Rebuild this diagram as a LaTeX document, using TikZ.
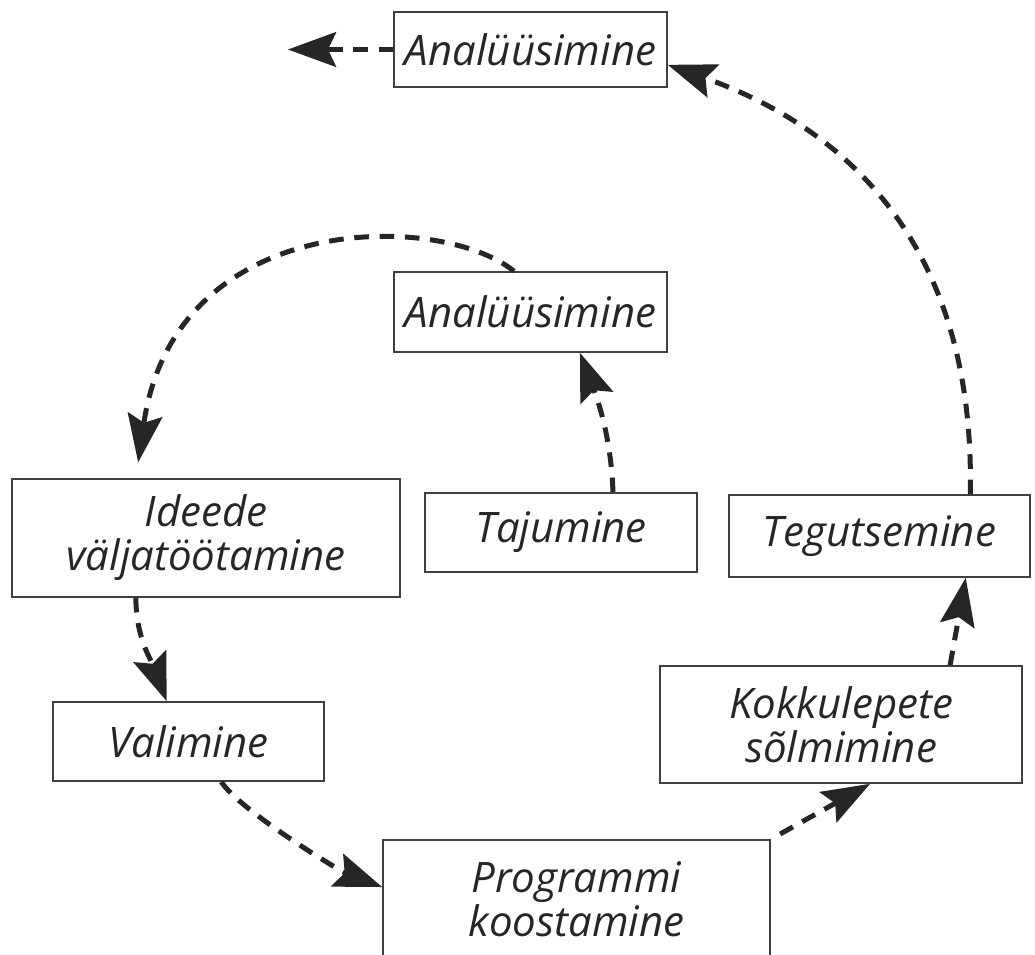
\documentclass[tikz,border=0pt]{standalone}
\usepackage{fontspec}
\setmainfont{Open Sans}
\usetikzlibrary{arrows.meta,calc}

\tikzset{every picture/.style={line width=0.75pt}}
\tikzset{
  stage/.style={draw=black!75, line width=1.2pt, align=center, inner sep=0pt,
    text=black!85, font=\fontsize{31.5}{33}\selectfont\itshape},
  flow/.style={draw=black!85, line width=3.75pt, dash pattern=on 11pt off 8pt,
    -{Stealth[length=36pt,width=26pt,inset=6pt,fill=black!85]}}
}

\begin{document}
\begin{tikzpicture}[x=0.75pt,y=0.75pt,yscale=-1,xscale=1]
\useasboundingbox (0,0) rectangle (1035,954);

\node[stage, minimum width=204.75pt, minimum height=56.25pt] (ana1) at (530.5,49.5) {Analüüsimine};
\node[stage, minimum width=204.75pt, minimum height=60pt] (ana2) at (530.5,312) {Analüüsimine};
\node[stage, minimum width=204pt, minimum height=59.25pt] (taj) at (561,532.5) {Tajumine};
\node[stage, minimum width=291pt, minimum height=88.5pt] (ide) at (206,538) {Ideede\\väljatöötamine};
\node[stage, minimum width=225.75pt, minimum height=61.5pt] (teg) at (879.5,536) {Tegutsemine};
\node[stage, minimum width=203.25pt, minimum height=59.25pt] (val) at (188.5,741.5) {Valimine};
\node[stage, minimum width=271.5pt, minimum height=87.75pt] (kok) at (841,724.5) {Kokkulepete\\sõlmimine};
\node[stage, minimum width=290.25pt, minimum height=88.5pt] (pro) at (576.5,899) {Programmi\\koostamine};
\coordinate (out) at (288,49.5);

% outer loop
\draw[flow] (ana1.west) -- (out);
\draw[flow] ($(teg.north west)!0.8!(teg.north east)$) .. controls +(5,-245) and +(183,65) .. ($(ana1.north east)!0.7!(ana1.south east)$);
\draw[flow] ($(kok.north west)!0.8!(kok.north east)$) -- ($(teg.south west)!0.785!(teg.south east)$);
\draw[flow, shorten <=8pt] (pro.north east) -- ($(kok.south west)!0.58!(kok.south east)$);
\draw[flow] ($(val.south west)!0.62!(val.south east)$) .. controls +(20,30) and +(-40,-15) .. ($(pro.north west)!0.4!(pro.south west)$);
\draw[flow] ($(ide.south west)!0.32!(ide.south east)$) .. controls +(0,40) and +(-15,-40) .. ($(val.north west)!0.42!(val.north east)$);

% inner loop
\draw[flow] ($(taj.north west)!0.69!(taj.north east)$) .. controls +(-2,-60) and +(15,40) .. ($(ana2.south west)!0.68!(ana2.south east)$);
\draw[flow, shorten >=12pt] ($(ana2.north west)!0.44!(ana2.north east)$) .. controls +(-74,-60) and +(39,-269) .. ($(ide.north west)!0.32!(ide.north east)$);

\end{tikzpicture}
\end{document}
